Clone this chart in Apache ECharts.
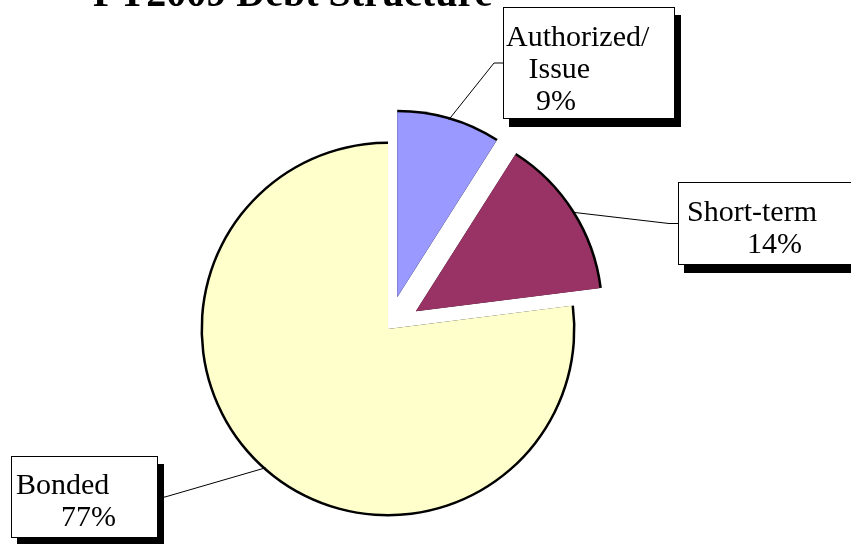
<!DOCTYPE html>
<html>
<head>
<meta charset="utf-8">
<script src="https://cdn.jsdelivr.net/npm/echarts@6/dist/echarts.min.js"></script>
<style>html,body{margin:0;padding:0;background:#fff}#c{width:851px;height:544px}</style>
</head>
<body>
<div id="c"></div>
<script>
// ---- data ----
const titleText = 'FY2009 Debt Structure';
const categories = ['Authorized/ Issue', 'Short-term', 'Bonded'];
const values = [9, 14, 77];
const colors = ['#9999FF', '#993366', '#FFFFCC'];
const exploded = [true, true, false];
// label text lines (name lines, then percent line indent)
const labelNameLines = [['Authorized/', '   Issue'], ['Short-term'], ['Bonded']];
const labelPctIndent = ['    ', '        ', '      '];

// ---- layout (boxes: left, top, width, height) ----
const boxes = [
  [504, 8, 170, 110],
  [679, 183, 220, 81],
  [12, 457, 145, 80]
];
const pads = [[14, 6, 0, 2], [14, 6, 3, 8], [13, 6, 3, 4]];
const center = [388, 329];
const R = 185;
const OFF = 33;

const chart = echarts.init(document.getElementById('c'), null, {renderer: 'canvas'});
const font = 'Liberation Serif, Times New Roman, serif';

const dataMain = categories.map((c, i) => ({
  name: c, value: values[i], selected: exploded[i],
  itemStyle: {color: colors[i]}
}));
const dataRim = categories.map((c, i) => ({
  name: c, value: values[i], selected: exploded[i],
  itemStyle: {color: '#000'}
}));
const dataLabel = categories.map((c, i) => ({
  name: c, value: values[i],
  itemStyle: {color: 'rgba(0,0,0,0)'},
  label: {
    padding: pads[i],
    width: boxes[i][2] - pads[i][1] - pads[i][3],
    height: boxes[i][3] - pads[i][0] - pads[i][2]
  }
}));

const common = {
  type: 'pie', center: center, startAngle: 90, clockwise: true,
  silent: true, avoidLabelOverlap: false, emphasis: {disabled: true}
};

chart.setOption({
  animation: false,
  backgroundColor: '#fff',
  title: {
    text: titleText, left: 93, top: -24, padding: 0,
    textStyle: {fontFamily: font, fontWeight: 'bold', fontSize: 40, lineHeight: 40, color: '#000'}
  },
  series: [
    Object.assign({}, common, {
      radius: R + 2.5, selectedMode: 'multiple', selectedOffset: OFF,
      label: {show: false}, labelLine: {show: false}, data: dataRim, z: 1
    }),
    Object.assign({}, common, {
      radius: R, selectedMode: 'multiple', selectedOffset: OFF,
      label: {show: false}, labelLine: {show: false}, data: dataMain, z: 2
    }),
    Object.assign({}, common, {
      radius: R, selectedMode: false, z: 3,
      label: {
        show: true, position: 'outside',
        formatter: p => labelNameLines[p.dataIndex].concat([labelPctIndent[p.dataIndex] + values[p.dataIndex] + '%']).join('\n'),
        fontFamily: font, fontSize: 30, lineHeight: 32, color: '#000', align: 'left',
        backgroundColor: '#fff', borderColor: '#000', borderWidth: 1,
        shadowColor: '#000', shadowBlur: 0, shadowOffsetX: 6, shadowOffsetY: 8
      },
      labelLine: {show: true, length: 20, length2: 10, smooth: false, lineStyle: {color: '#000', width: 1}},
      labelLayout: function (p) {
        const i = p.dataIndex;
        const b = boxes[i];
        let p0 = p.labelLinePoints ? p.labelLinePoints[0].slice() : [center[0], center[1]];
        if (exploded[i]) {
          const dx = p0[0] - center[0], dy = p0[1] - center[1];
          const d = Math.sqrt(dx * dx + dy * dy) || 1;
          p0 = [p0[0] + dx / d * OFF, p0[1] + dy / d * OFF];
        }
        const midY = b[1] + b[3] / 2;
        let pts;
        if (i === 2) {
          pts = [p0, [b[0] + b[2] + 8, midY], [b[0] + b[2], midY]];
        } else {
          pts = [p0, [b[0] - 10, midY], [b[0], midY]];
        }
        return {x: b[0], y: b[1], align: 'left', verticalAlign: 'top', labelLinePoints: pts};
      },
      data: dataLabel
    })
  ]
});
</script>
</body>
</html>
